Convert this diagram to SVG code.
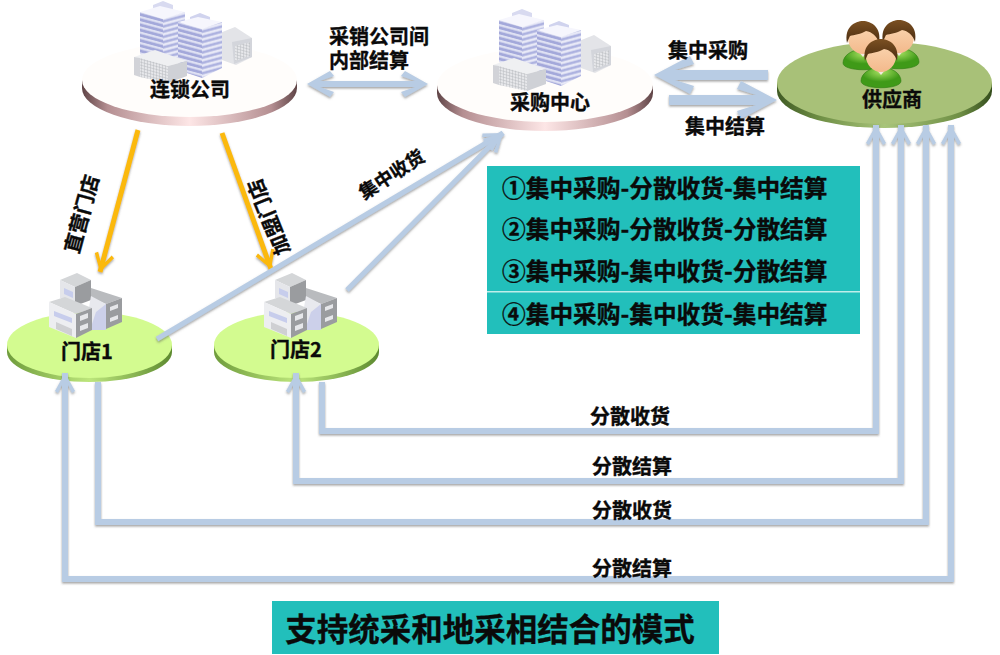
<svg xmlns="http://www.w3.org/2000/svg" width="1000" height="655" viewBox="0 0 1000 655">
<style>
text{font-family:"Noto Sans CJK SC","Noto Sans",sans-serif;font-weight:700;fill:#0a0a0a;stroke:#0a0a0a;stroke-width:.35px}
.m{font-size:20px;text-anchor:middle}
.l{font-size:23.7px}
.flow{fill:none;stroke:#b8cce4;stroke-width:6}
.yel{fill:none;stroke:#fbb90f;stroke-width:5}
.thick{fill:#b8cce4}
</style>
<defs>
<linearGradient id="rimPink"><stop offset="0" stop-color="#5f4446"/><stop offset=".12" stop-color="#b58f92"/><stop offset=".5" stop-color="#fde6e6"/><stop offset=".88" stop-color="#b58f92"/><stop offset="1" stop-color="#5f4446"/></linearGradient>
<linearGradient id="rimOlive"><stop offset="0" stop-color="#3f5a24"/><stop offset=".2" stop-color="#6f8f45"/><stop offset=".5" stop-color="#a8c47a"/><stop offset=".85" stop-color="#6f8f45"/><stop offset="1" stop-color="#344d1c"/></linearGradient>
<linearGradient id="rimLime"><stop offset="0" stop-color="#6f9c3c"/><stop offset=".5" stop-color="#bde67c"/><stop offset="1" stop-color="#5d8a30"/></linearGradient>
<linearGradient id="hair" x1="0" y1="0" x2="0" y2="1"><stop offset="0" stop-color="#7b5022"/><stop offset="1" stop-color="#4a2c10"/></linearGradient>
<linearGradient id="skin" x1="0" y1="0" x2="0" y2="1"><stop offset="0" stop-color="#fbd9b4"/><stop offset="1" stop-color="#f3b98c"/></linearGradient>
<radialGradient id="shirt" cy=".2"><stop offset="0" stop-color="#a5e060"/><stop offset="1" stop-color="#3f9a18"/></radialGradient>
<pattern id="fl" width="10" height="5.2" patternUnits="userSpaceOnUse" patternTransform="skewY(15)"><rect width="10" height="5.2" fill="#dfe1f3"/><rect y="1.4" width="10" height="2.9" fill="#a3a8da"/></pattern>
<pattern id="fr" width="10" height="5.2" patternUnits="userSpaceOnUse" patternTransform="skewY(-15)"><rect width="10" height="5.2" fill="#e8e9f7"/><rect y="1.4" width="10" height="2.6" fill="#adb2e0"/></pattern>
<pattern id="grid" width="3" height="3" patternUnits="userSpaceOnUse" patternTransform="skewY(15)"><rect width="3" height="3" fill="#e6e7ea"/><path d="M0 0H3M0 0V3" stroke="#b4b7bc" stroke-width=".8"/></pattern>
<marker id="hd" markerUnits="userSpaceOnUse" markerWidth="24" markerHeight="26" refX="20" refY="12" orient="auto-start-reverse" viewBox="0 0 24 24"><path d="M20 12L2 2L0 5L8 9V15L0 19L2 22Z" fill="#b8cce4"/></marker>
<marker id="hy" markerUnits="userSpaceOnUse" markerWidth="24" markerHeight="24" refX="20" refY="12" orient="auto" viewBox="0 0 24 24"><path d="M20 12L3 2L1 5L9 9.5V14.5L1 19L3 22Z" fill="#fbb90f"/></marker>
<filter id="sh" filterUnits="userSpaceOnUse" x="0" y="0" width="1000" height="655"><feDropShadow dx="0" dy="1.5" stdDeviation="1" flood-color="#555" flood-opacity=".55"/></filter>
<g id="city">
<path d="M220 33L235 27L252 38V57L236 65L222 60Z" fill="#e3e4e8"/><path d="M232 42L252 38V57L234 64Z" fill="#d3d5db"/><path d="M235 46L250 42V56L235 61Z" fill="url(#grid)"/>
<path d="M153 5L163 1L173 5V11L163 15L153 11Z" fill="#d8daf0"/>
<path d="M140 12L160 6L185 12L163 19Z" fill="#f6f6fd"/><path d="M140 12L163 19V62L140 54Z" fill="url(#fl)"/><path d="M163 19L185 12V58L163 62Z" fill="url(#fr)"/>
<path d="M190 17L200 13L210 17V24H190Z" fill="#d0d3ee"/>
<path d="M178 22L198 17L222 22L202 29Z" fill="#f6f6fd"/><path d="M178 22L202 29V78L178 70Z" fill="url(#fl)"/><path d="M202 29L222 22V68L202 78Z" fill="url(#fr)"/>
<path d="M134 57L155 50L187 61L168 66Z" fill="#eff0f2"/><path d="M134 57L140 58V77L134 75Z" fill="#d2d3d8"/><path d="M140 58L168 66V83L140 77Z" fill="url(#grid)"/><path d="M168 66L187 61V76L168 83Z" fill="#cfd1d6"/>
</g>
<g id="store">
<path d="M60 280L77 273L91 280L75 287Z" fill="#d4d6d8"/><path d="M60 280L75 287V305L60 298Z" fill="#e5e6ea"/><path d="M75 287L91 280V300L75 306Z" fill="#9a9c9f"/><path d="M64 288L73 292V298L64 294Z" fill="#c7cdec"/>
<path d="M91 288L122 298L106 304L91 298Z" fill="#b9bbbe"/><path d="M91 296L106 304V330L85 330Z" fill="#e8e9ee"/><path d="M96 312L106 304V330L90 330Z" fill="#ccd0ea"/><path d="M106 304L122 298V322L106 329Z" fill="#9a9c9f"/>
<path d="M110 307L118 304V308L110 311ZM110 318L118 315V319L110 322Z" fill="#e6e7ea"/>
<path d="M49 302L65 297L92 308L76 314Z" fill="#d4d6d8"/><path d="M49 302L76 314V338L49 327Z" fill="#edeef1"/><path d="M76 314L92 308V330L76 338Z" fill="#9a9c9f"/>
<path d="M54 311L72 318V323L54 316Z" fill="#c7cdec"/><path d="M56 322L72 329V336L56 329Z" fill="#cfd0d3"/><path d="M80 316L88 313V318L80 321ZM80 326L88 323V328L80 331Z" fill="#e6e7ea"/>
</g>
<g id="person">
<path d="M-20 24C-20 16-10 11 -5 11L0 17L5 11C10 11 20 16 20 24C20 33 -20 33 -20 24Z" fill="url(#shirt)" stroke="#2b7a10" stroke-width=".6"/>
<path d="M-6 11L0 18L6 11L3 8H-3Z" fill="#f3e9e0"/>
<ellipse cx="0" cy="-1" rx="15" ry="16" fill="url(#skin)"/>
<path d="M-16 4C-19 -12 -8 -18 0 -18C8 -18 19 -12 16 4C14 -3 9 -7 3 -8C-2 -5 -9 -4 -13 -3C-14 -1 -15 1 -16 4Z" fill="url(#hair)"/>
</g>
</defs>
<rect width="1000" height="655" fill="#fff"/>

<g id="node-chain">
<path d="M82 80V88A107.500 38 0 0 0 297 88V80Z" fill="url(#rimPink)"/>
<ellipse cx="189.500" cy="80" rx="107.500" ry="37" fill="#fffdfb"/>
<use href="#city"/>
<text class="m" x="190" y="97">连锁公司</text>
</g>
<g id="node-purchase">
<path d="M437 85V93A108 38 0 0 0 653 93V85Z" fill="url(#rimPink)"/>
<ellipse cx="545" cy="85" rx="108" ry="37" fill="#fffdfb"/>
<use href="#city" transform="translate(359 8)"/>
<text class="m" x="550" y="110">采购中心</text>
</g>
<g id="node-supplier">
<path d="M777 83V91A107.500 37 0 0 0 992 91V83Z" fill="url(#rimOlive)"/>
<ellipse cx="884.500" cy="83" rx="107.500" ry="41" fill="#a8c178"/>
<use href="#person" transform="translate(863 39)"/>
<use href="#person" transform="translate(899 38)"/>
<use href="#person" transform="translate(881 57)"/>
<text class="m" x="892" y="107">供应商</text>
</g>
<g id="node-store1">
<path d="M7 345V352A82.500 30 0 0 0 172 352V345Z" fill="url(#rimLime)"/>
<ellipse cx="89.500" cy="345" rx="82.500" ry="33" fill="#d3fb90"/>
<use href="#store"/>
<text class="m" x="87" y="359">门店1</text>
</g>
<g id="node-store2">
<path d="M214 345V352A82.500 30 0 0 0 379 352V345Z" fill="url(#rimLime)"/>
<ellipse cx="296.500" cy="345" rx="82.500" ry="33" fill="#d3fb90"/>
<use href="#store" transform="translate(215 0)"/>
<text class="m" x="296" y="357">门店2</text>
</g>

<g id="connectors">
<g filter="url(#sh)">
<path class="yel" d="M138 130L100 272" marker-end="url(#hy)"/>
<path class="yel" d="M222 133L271 269" marker-end="url(#hy)"/>
<path class="flow" style="stroke-width:5" d="M157 339L503 133" marker-end="url(#hd)"/>
<path class="flow" style="stroke-width:5" d="M347 290L503 133" marker-end="url(#hd)"/>
<path class="thick" d="M307 84L330 71L334 76L320 81H415L401 76L405 71L428 84L405 97L401 92L415 87H320L334 92L330 97Z"/>
<path class="thick" d="M654 75L690 56L694 64L675 70H768V80H675L694 86L690 94Z"/>
<path class="thick" d="M777 100L741 81L737 89L756 95H669V105H756L737 111L741 119Z"/>
<path class="flow" d="M322 382V431H876V125" marker-end="url(#hd)"/>
<path class="flow" d="M296 373V481H901V125" marker-start="url(#hd)" marker-end="url(#hd)"/>
<path class="flow" d="M98 382V522H926V125" marker-end="url(#hd)"/>
<path class="flow" d="M65 373V579H951V125" marker-start="url(#hd)" marker-end="url(#hd)"/>
</g>
<text class="m" x="379" y="44">采销公司间</text>
<text class="m" x="369" y="68">内部结算</text>
<text class="m" x="708" y="58">集中采购</text>
<text class="m" x="725" y="134">集中结算</text>
<text class="m" transform="translate(82 214) rotate(-75)" y="7">直营门店</text>
<text class="m" transform="translate(269 217) rotate(-112)" y="7">加盟门店</text>
<text class="m" style="font-size:18.500px" transform="translate(392 175) rotate(-33)" y="6">集中收货</text>
<text class="m" x="630" y="424">分散收货</text>
<text class="m" x="632" y="474">分散结算</text>
<text class="m" x="632" y="518">分散收货</text>
<text class="m" x="632" y="576">分散结算</text>
</g>

<g id="node-modes">
<rect x="487" y="166" width="373" height="168" fill="#22bfbb"/>
<rect x="487" y="291" width="373" height="1.500" fill="#bfeeea"/>
<text class="l" x="502" y="197">①集中采购-分散收货-集中结算</text>
<text class="l" x="502" y="238">②集中采购-分散收货-分散结算</text>
<text class="l" x="502" y="280">③集中采购-集中收货-分散结算</text>
<text class="l" x="502" y="323">④集中采购-集中收货-集中结算</text>
</g>
<g id="node-title">
<rect x="272" y="601" width="447" height="53" fill="#22bfbb"/>
<text x="490" y="641" style="font-size:31.500px;text-anchor:middle">支持统采和地采相结合的模式</text>
</g>
</svg>
